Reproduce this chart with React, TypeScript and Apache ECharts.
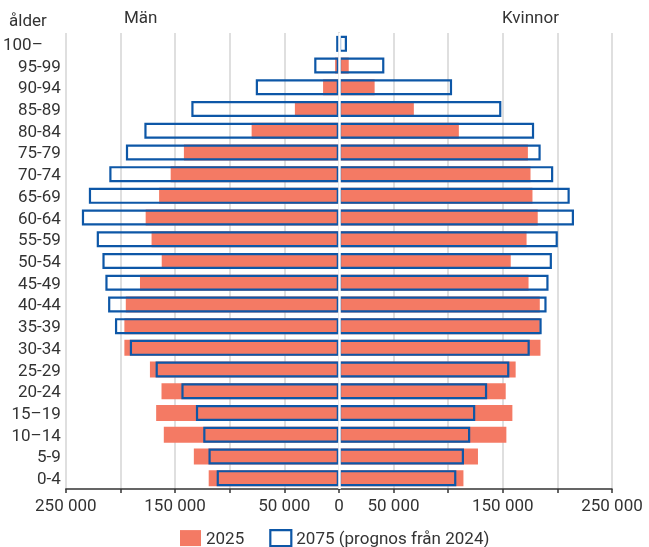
import React, { useEffect, useRef } from "react";
import * as echarts from "echarts";

const ageGroups = [
  "100–", "95-99", "90-94", "85-89", "80-84", "75-79", "70-74", "65-69",
  "60-64", "55-59", "50-54", "45-49", "40-44", "35-39", "30-34", "25-29",
  "20-24", "15–19", "10–14", "5-9", "0-4",
];

const men2025 = [300, 3500, 14500, 40300, 79900, 141900, 154000, 164600, 176900, 171500, 162200, 182100, 195100, 196400, 196400, 173000, 162400, 167300, 160300, 132800, 119200];
const women2025 = [1000, 9000, 32700, 68600, 109800, 173000, 175400, 177200, 182000, 171800, 157300, 173600, 183900, 183900, 184500, 161800, 152700, 158800, 153300, 127300, 114000];
const men2075 = [2500, 22600, 76100, 135100, 178100, 195000, 210200, 228900, 235300, 221700, 216500, 213800, 211300, 205000, 191400, 167800, 144200, 130900, 124200, 119400, 111900];
const women2075 = [7400, 41600, 103600, 148700, 178700, 184700, 196200, 211300, 215200, 200400, 195000, 191900, 190100, 185600, 174700, 156000, 135700, 124800, 120200, 114500, 107500];

const xTickLabels: Record<number, string> = {
  [-250000]: "250 000",
  [-150000]: "150 000",
  [-50000]: "50 000",
  0: "0",
  50000: "50 000",
  150000: "150 000",
  250000: "250 000",
};

const SALMON = "#F47A64";
const BLUE = "#0D57A7";
const TEXT = "#333333";
const FONT = "Roboto";

export default function App() {
  const ref = useRef<HTMLDivElement>(null);

  useEffect(() => {
    if (!ref.current) return;
    const chart = echarts.init(ref.current, undefined, { renderer: "svg" });
    const boxStyle = { color: "transparent", borderColor: BLUE, borderWidth: 2.2 };
    chart.setOption({
      animation: false,
      textStyle: { fontFamily: FONT },
      grid: { left: 62, right: 37, top: 33, bottom: 58, containLabel: false },
      legend: {
        left: 180,
        top: 529,
        padding: 0,
        itemWidth: 21,
        itemHeight: 16,
        itemGap: 25,
        icon: "rect",
        textStyle: { fontSize: 17, color: TEXT, fontFamily: FONT },
        data: [
          { name: "2025", itemStyle: { color: SALMON, borderWidth: 0 } },
          { name: "2075 (prognos från 2024)", itemStyle: { color: "#fff", borderColor: BLUE, borderWidth: 2.2 } },
        ],
      },
      xAxis: {
        type: "value",
        min: -250000,
        max: 250000,
        interval: 50000,
        axisLine: { show: true, lineStyle: { color: "#333", width: 1.5 } },
        axisTick: { show: true, length: 4, lineStyle: { color: "#333", width: 1.5 } },
        axisLabel: {
          fontSize: 17,
          color: TEXT,
          margin: 7,
          fontFamily: FONT,
          formatter: (v: number) => xTickLabels[v] ?? "",
        },
        splitLine: { show: true, lineStyle: { color: "#d4d4d4", width: 1.5 } },
      },
      yAxis: {
        type: "category",
        inverse: true,
        data: ageGroups,
        axisLine: { show: true, lineStyle: { color: "#b0b0b0", width: 1.5 } },
        axisTick: { show: false },
        axisLabel: {
          interval: 0,
          fontSize: 17,
          color: TEXT,
          margin: 5,
          fontFamily: FONT,
          formatter: (v: string) => (v === "100–" ? "{p|" + v + "}" : v),
          rich: { p: { fontSize: 17, color: TEXT, fontFamily: FONT, padding: [0, 18, 0, 0] } },
        },
      },
      graphic: [
        { type: "text", left: 9, top: 11, style: { text: "ålder", font: `17px ${FONT}`, fill: TEXT } },
        { type: "text", left: 124, top: 8, style: { text: "Män", font: `17px ${FONT}`, fill: TEXT } },
        { type: "text", left: 502, top: 8, style: { text: "Kvinnor", font: `17px ${FONT}`, fill: TEXT } },
      ],
      series: [
        {
          name: "2025",
          type: "bar",
          data: men2025.map((v) => -v),
          barWidth: 16,
          barGap: "-100%",
          itemStyle: { color: SALMON },
          z: 2,
        },
        {
          name: "2025",
          type: "bar",
          data: women2025,
          barWidth: 16,
          barGap: "-100%",
          itemStyle: { color: SALMON },
          z: 2,
        },
        {
          name: "2075 (prognos från 2024)",
          type: "bar",
          data: men2075.map((v) => -v),
          barWidth: 16,
          barGap: "-100%",
          itemStyle: boxStyle,
          z: 3,
        },
        {
          name: "2075 (prognos från 2024)",
          type: "bar",
          data: women2075,
          barWidth: 16,
          barGap: "-100%",
          itemStyle: boxStyle,
          z: 3,
          markLine: {
            silent: true,
            symbol: "none",
            label: { show: false },
            lineStyle: { color: "#ffffff", width: 2.5, type: "solid" },
            data: [{ xAxis: 0 }],
            z: 10,
          },
        },
      ],
    });
    return () => chart.dispose();
  }, []);

  return (
    <div
      ref={ref}
      style={{ position: "fixed", left: 0, top: 0, width: 649, height: 547 }}
    />
  );
}
